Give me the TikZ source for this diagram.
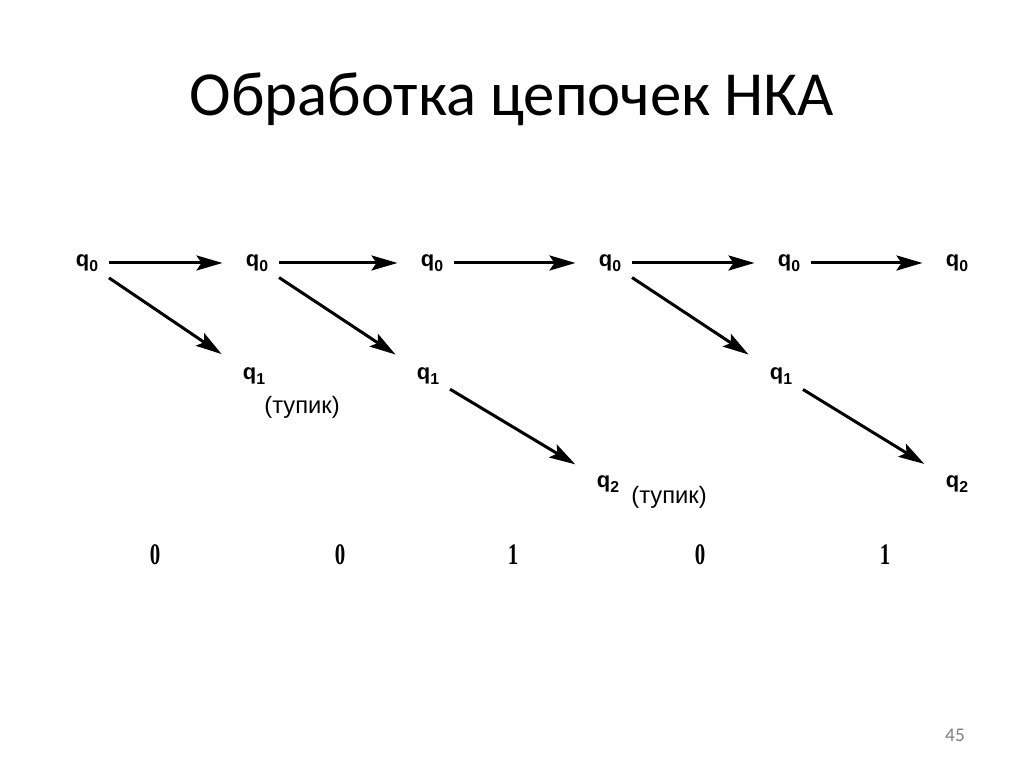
\documentclass[tikz,border=0pt]{standalone}
\usepackage{fontspec}
\setmainfont{Carlito}
\newfontfamily\diagfont{Liberation Sans}
\newfontfamily\digitfont[FakeStretch=0.7]{Liberation Serif}
\usepackage{tikz}
\usetikzlibrary{arrows.meta}

\newcommand{\qsub}[2]{#1\raisebox{-0.45ex}{\fontsize{9}{9}\selectfont #2}}

\tikzset{
    qnode/.style={inner sep=6pt, font=\diagfont\bfseries\fontsize{12.5}{12}\selectfont},
    arr/.style={-{Stealth[length=5.2mm, width=3mm, inset=1mm]}, line width=1.7pt, shorten >=2.5mm},
    note/.style={font=\diagfont\fontsize{13.5}{14}\selectfont},
    sym/.style={font=\digitfont\bfseries\fontsize{17}{18}\selectfont}
}

\begin{document}
\begin{tikzpicture}
    \useasboundingbox[fill=white] (0, 0) rectangle (20.48, 15.34);

    \node[font=\fontsize{35.7}{38}\selectfont] at (10.24, 13.36) (title) {Обработка цепочек НКА};

    \node[qnode] at (1.74, 10.08) (v1) {\qsub{q}{0}};
    \node[qnode] at (5.14, 10.08) (v2) {\qsub{q}{0}};
    \node[qnode] at (8.64, 10.08) (v3) {\qsub{q}{0}};
    \node[qnode] at (12.20, 10.08) (v4) {\qsub{q}{0}};
    \node[qnode] at (15.78, 10.08) (v5) {\qsub{q}{0}};
    \node[qnode] at (19.14, 10.08) (v6) {\qsub{q}{0}};
    \node[qnode] at (5.08, 7.82) (v7) {\qsub{q}{1}};
    \node[qnode] at (8.56, 7.82) (v8) {\qsub{q}{1}};
    \node[qnode] at (15.62, 7.82) (v9) {\qsub{q}{1}};
    \node[qnode] at (12.16, 5.66) (v10) {\qsub{q}{2}};
    \node[qnode] at (19.14, 5.66) (v11) {\qsub{q}{2}};

    \node[note] at (6.04, 7.20) (t1) {(тупик)};
    \node[note] at (13.38, 5.40) (t2) {(тупик)};

    \node[sym] at (3.10, 4.24) (s1) {0};
    \node[sym] at (6.80, 4.24) (s2) {0};
    \node[sym] at (10.26, 4.24) (s3) {1};
    \node[sym] at (14.00, 4.24) (s4) {0};
    \node[sym] at (17.70, 4.24) (s5) {1};

    \node[font=\fontsize{11}{12}\selectfont, gray] at (19.10, 0.64) (page) {45};

    \draw[arr] (v1) -- (v2);
    \draw[arr] (v2) -- (v3);
    \draw[arr] (v3) -- (v4);
    \draw[arr] (v4) -- (v5);
    \draw[arr] (v5) -- (v6);
    \draw[arr] (v1) -- (v7);
    \draw[arr] (v2) -- (v8);
    \draw[arr] (v8) -- (v10);
    \draw[arr] (v4) -- (v9);
    \draw[arr] (v9) -- (v11);
\end{tikzpicture}
\end{document}
